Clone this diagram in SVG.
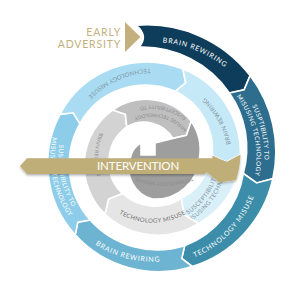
<svg xmlns="http://www.w3.org/2000/svg" width="300" height="300" viewBox="0 0 300 300">
<style>
.seg{stroke:#fff;stroke-width:1.6;stroke-linejoin:miter}
.t{font-family:Lato,"Open Sans","Liberation Sans",sans-serif;letter-spacing:0.8px}
.tw{fill:#fff;font-size:7px}
.ts{fill:#fff;font-size:6.3px;letter-spacing:0.5px}
.tb{fill:#7f93a0;font-size:6px;letter-spacing:0.4px}
.tg{fill:#6e6e6e;font-size:6px;letter-spacing:0.4px}
.tgs{fill:#8a8a8a;font-size:5px;letter-spacing:0.3px}
</style>
<defs>
<path id="cw115" d="M 37 157.5 A 115.5 115.5 0 0 1 268 157.5"/>
<path id="cw112" d="M 40.5 157.5 A 112 112 0 0 1 264.5 157.5"/>
<path id="cw104" d="M 48.5 157.5 A 104 104 0 0 1 256.5 157.5"/>
<path id="cb108" d="M 44 157.5 A 108.5 108.5 0 0 0 261 157.5"/>
<path id="cb104" d="M 48.3 157.5 A 104.2 104.2 0 0 0 256.7 157.5"/>
<path id="cb94" d="M 58.5 157.5 A 94 94 0 0 0 246.5 157.5"/>
<path id="cb102" d="M 50.5 157.5 A 102 102 0 0 0 254.5 157.5"/>
<path id="cb67" d="M 85.5 157.5 A 67 67 0 0 0 219.5 157.5"/>
<path id="cb74" d="M 78.5 157.5 A 74 74 0 0 0 226.5 157.5"/>
<path id="cb65" d="M 87.2 157.5 A 65.3 65.3 0 0 0 217.8 157.5"/>
<path id="cb58" d="M 94.5 157.5 A 58 58 0 0 0 210.5 157.5"/>
<path id="ct88" d="M 241.3 157.5 A 88.8 88.8 0 0 0 63.7 157.5"/>
<path id="ct79" d="M 231.8 157.5 A 79.3 79.3 0 0 0 73.2 157.5"/>
<path id="ct52" d="M 204.5 157.5 A 52 52 0 0 0 100.5 157.5"/>
<path id="ct44" d="M 196.5 157.5 A 44 44 0 0 0 108.5 157.5"/>
<path id="inner" d="M 194 176.5 A 80 80 0 0 1 134 176.5"/>
<filter id="sh" x="-5%" y="-30%" width="110%" height="160%"><feDropShadow dx="0" dy="1.5" stdDeviation="1.2" flood-color="#000" flood-opacity="0.3"/></filter>
</defs>

<g id="early-adversity">
<polygon points="125,22 125,52 140.5,37" fill="#c4b07c"/>
<text class="t" x="121" y="35.5" text-anchor="end" font-size="10.5" fill="#c4b07c" letter-spacing="0.3">EARLY</text>
<text class="t" x="121" y="47.5" text-anchor="end" font-size="10.5" fill="#c4b07c" letter-spacing="0.3">ADVERSITY</text>
</g>

<g id="connectors"></g>

<g id="s1-brain-rewiring">
<path class="seg" fill="#0e3d5b" d="M 136.27 25.29 A 130 130 0 0 1 250.09 75.61 L 244.10 89.80 L 229.41 92.96 A 106 106 0 0 0 138.95 47.13 Q 149 36 136.27 25.29 Z"/>
<text class="t tw" transform="rotate(22 152.5 157.5)"><textPath href="#cw115" startOffset="50%" text-anchor="middle">BRAIN REWIRING</textPath></text>
</g>
<g id="s2-susceptibility">
<path class="seg" fill="#2d6d8e" d="M 250.09 75.61 A 125 125 0 0 1 272.84 178.72 L 256.63 182.96 L 243.30 173.51 A 96 96 0 0 0 229.41 92.96 L 244.10 89.80 Z"/>
<text class="t ts" transform="rotate(77 152.5 157.5)"><textPath href="#cw112" startOffset="50%" text-anchor="middle">SUSPTIBILITY TO</textPath></text>
<text class="t ts" transform="rotate(77 152.5 157.5)"><textPath href="#cw104" startOffset="50%" text-anchor="middle">MISUSING TECHNOLOGY</textPath></text>
</g>
<g id="s3-technology-misuse">
<path class="seg" fill="#3c8da9" d="M 272.84 178.72 A 119 119 0 0 1 192.17 266.50 L 181.76 258.34 L 184.65 245.83 A 93 93 0 0 0 243.30 173.51 L 256.63 182.96 Z"/>
<text class="t tw" transform="rotate(-46 152.5 157.5)"><textPath href="#cb108" startOffset="50%" text-anchor="middle">TECHNOLOGY MISUSE</textPath></text>
</g>
<g id="s4-brain-rewiring">
<path class="seg" fill="#6db3d2" d="M 192.17 266.50 A 112.6 112.6 0 0 1 75.21 234.79 L 77.84 222.21 L 90.06 219.94 A 91 91 0 0 0 184.65 245.83 L 181.76 258.34 Z"/>
<text class="t tw" transform="rotate(14.5 152.5 157.5)"><textPath href="#cb104" startOffset="50%" text-anchor="middle">BRAIN REWIRING</textPath></text>
</g>
<g id="s5-susceptibility">
<path class="seg" fill="#8ecde9" d="M 75.21 234.79 A 105.7 105.7 0 0 1 59.97 114.35 L 73.13 112.78 L 79.90 123.65 A 84 84 0 0 0 90.06 219.94 L 77.84 222.21 Z"/>
<text class="t ts" transform="rotate(78 152.5 157.5)"><textPath href="#cb94" startOffset="50%" text-anchor="middle">SUSCEPTIBILITY TO</textPath></text>
<text class="t ts" transform="rotate(78 152.5 157.5)"><textPath href="#cb102" startOffset="50%" text-anchor="middle">MISUSING TECHNOLOGY</textPath></text>
</g>
<g id="s6-technology-misuse">
<path class="seg" fill="#a9dcf2" d="M 59.97 114.35 A 97.8 97.8 0 0 1 182.94 69.09 L 185.63 82.77 L 175.29 91.31 A 75 75 0 0 0 79.90 123.65 L 73.13 112.78 Z"/>
<text class="t tb" transform="rotate(-24 152.5 157.5)"><textPath href="#ct88" startOffset="50%" text-anchor="middle">TECHNOLOGY MISUSE</textPath></text>
</g>
<g id="s7-brain-rewiring">
<path class="seg" fill="#c6e9f7" d="M 182.94 69.09 A 90.7 90.7 0 0 1 240.45 154.43 L 226.37 161.91 L 212.46 155.41 A 65 65 0 0 0 175.29 91.31 L 185.63 82.77 Z"/>
<text class="t tb" transform="rotate(60.6 152.5 157.5)"><textPath href="#ct79" startOffset="50%" text-anchor="middle">BRAIN REWIRING</textPath></text>
</g>
<g id="s8-susceptibility">
<path class="seg" fill="#daf0f9" d="M 236.05 179.89 A 83.5 83.5 0 0 1 198.67 223.44 L 183.99 214.65 L 181.18 198.46 A 53 53 0 0 0 206.59 171.99 L 219.18 182.60 Z"/>
<text class="t tb" font-size="5" transform="rotate(-58 152.5 157.5)"><textPath href="#cb67" startOffset="50%" text-anchor="middle">SUSCEPTIBILITY TO</textPath></text>
<text class="t tb" font-size="5" transform="rotate(-58 152.5 157.5)"><textPath href="#cb74" startOffset="50%" text-anchor="middle">MISUSING TECHNOLOGY</textPath></text>
</g>
<g id="s9-technology-misuse">
<path class="seg" fill="#e5e5e6" d="M 198.67 223.44 A 77 77 0 0 1 104.93 214.19 L 108.52 199.04 L 122.29 193.50 A 48.5 48.5 0 0 0 181.18 198.46 L 183.99 214.65 Z"/>
<text class="t tg" transform="rotate(0 152.5 157.5)"><textPath href="#cb65" startOffset="50%" text-anchor="middle">TECHNOLOGY MISUSE</textPath></text>
</g>
<g id="s10-brain-rewiring">
<path class="seg" fill="#d3d3d4" d="M 104.93 214.19 A 68 68 0 0 1 112.65 110.01 L 125.37 114.32 L 126.79 126.86 A 43.5 43.5 0 0 0 122.29 193.50 L 108.52 199.04 Z"/>
<text class="t tgs" font-size="5.5" transform="rotate(93 152.5 157.5)"><textPath href="#cb58" startOffset="50%" text-anchor="middle">BRAIN REWIRING</textPath></text>
</g>
<g id="s11-susceptibility">
<path class="seg" fill="#bfbfc0" d="M 112.65 110.01 A 57.5 57.5 0 0 1 191.26 121.35 L 186.43 135.38 L 172.98 138.40 A 34 34 0 0 0 126.79 126.86 L 125.37 114.32 Z"/>
<text class="t tgs" fill="#7a7a7a" transform="rotate(13 152.5 157.5)"><textPath href="#ct52" startOffset="50%" text-anchor="middle">SUSCEPTIBILITY TO</textPath></text>
<text class="t tgs" fill="#7a7a7a" transform="rotate(13 152.5 157.5)"><textPath href="#ct44" startOffset="50%" text-anchor="middle">MISUSE TECHNOLOGY</textPath></text>
</g>
<g id="s12-technology-misuse">
<path class="seg" fill="#9e9e9f" d="M 191.26 121.35 A 50 50 0 0 1 199.5 157.5 A 44 44 0 0 1 152.5 199 A 32 32 0 0 1 130.5 157.5 A 20 20 0 0 1 141 143 L 141 155 L 155 155 L 155 143 L 172.98 138.40 L 186.43 135.38 Z"/>
<text class="t tgs" fill="#c8c8c8"><textPath href="#inner" startOffset="50%" text-anchor="middle">TECHNOLOGY MISUSE</textPath></text>
</g>

<g id="intervention">
<path fill="#c0ae78" filter="url(#sh)" d="M 240.45 154.43 A 87 87 0 0 1 236.05 179.89 L 219.18 182.60 L 206.59 171.99 L 205 174 L 27 174 L 20 166 L 27 158.3 L 212.46 158.3 L 212.46 155.41 L 226.37 161.91 Z"/>
<text class="t" x="138.5" y="170" text-anchor="middle" font-size="11.5" fill="#fff" letter-spacing="1.4" textLength="83">INTERVENTION</text>
</g>
</svg>
